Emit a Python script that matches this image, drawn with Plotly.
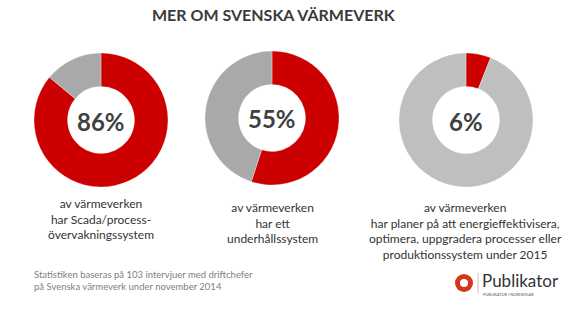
import plotly.graph_objects as go

W, H = 585, 324

percents = [86, 55, 6]
pct_labels = ["86%", "55%", "6%"]
captions = [
    "av värmeverken<br>har Scada/process-<br>övervakningssystem",
    "av värmeverken<br>har ett<br>underhållssystem",
    "av värmeverken<br>har planer på att energieffektivisera,<br>optimera, uppgradera processer eller<br>produktionssystem under 2015",
]
rest_colors = ["#A9A9A9", "#A9A9A9", "#BFBFBF"]
title = "MER OM SVENSKA VÄRMEVERK"
footnote = "Statistiken baseras på 103 intervjuer med driftchefer<br>på Svenska värmeverk under november 2014"

# layout positions (pixels)
centers_x = [101, 272, 466]
centers_y = [120, 118, 120]
radius = 67
caption_top = [194, 198, 198]

fig = go.Figure()
for i, p in enumerate(percents):
    cx, cy = centers_x[i], centers_y[i]
    fig.add_trace(go.Pie(
        values=[p, 100 - p],
        labels=["Ja", "Övrigt"],
        hole=0.5,
        sort=False,
        direction="clockwise",
        rotation=0,
        textinfo="none",
        hoverinfo="none",
        showlegend=False,
        marker=dict(colors=["#CC0000", rest_colors[i]],
                    line=dict(color="rgba(255,255,255,0.6)", width=0.5)),
        domain=dict(x=[(cx - radius) / W, (cx + radius) / W],
                    y=[(H - cy - radius) / H, (H - cy + radius) / H]),
    ))
    fig.add_annotation(x=cx / W, y=(H - cy - 1) / H, xref="paper", yref="paper",
                       text="<b>%s</b>" % pct_labels[i], showarrow=False,
                       font=dict(family="Lato", size=24, color="#404040"),
                       xanchor="center", yanchor="middle")
    fig.add_annotation(x=cx / W, y=(H - caption_top[i]) / H, xref="paper", yref="paper",
                       text=captions[i], showarrow=False, align="center",
                       font=dict(family="Lato", size=12, color="#333333"),
                       xanchor="center", yanchor="top")

fig.add_annotation(x=274 / W, y=(H - 15) / H, xref="paper", yref="paper",
                   text="<b>%s</b>" % title, showarrow=False,
                   font=dict(family="Lato", size=16, color="#3A3A3A"),
                   xanchor="center", yanchor="middle")

fig.add_annotation(x=32 / W, y=(H - 267) / H, xref="paper", yref="paper",
                   text=footnote, showarrow=False, align="left",
                   font=dict(family="Lato", size=9.5, color="#808080"),
                   xanchor="left", yanchor="top")

# logo
fig.add_shape(type="circle", xref="paper", yref="paper",
              x0=(464 - 9) / W, x1=(464 + 9) / W, y0=(H - 283 - 9) / H, y1=(H - 283 + 9) / H,
              fillcolor="#D5361E", line=dict(width=0))
fig.add_shape(type="circle", xref="paper", yref="paper",
              x0=(464 - 4) / W, x1=(464 + 4) / W, y0=(H - 283 - 4) / H, y1=(H - 283 + 4) / H,
              fillcolor="white", line=dict(width=0))
fig.add_shape(type="line", xref="paper", yref="paper",
              x0=478 / W, x1=478 / W, y0=(H - 293) / H, y1=(H - 273) / H,
              line=dict(color="#999999", width=0.6))
fig.add_annotation(x=480 / W, y=(H - 280) / H, xref="paper", yref="paper",
                   text="Publikator", showarrow=False,
                   font=dict(family="Lato", size=17, color="#333333"),
                   xanchor="left", yanchor="middle")
fig.add_annotation(x=481 / W, y=(H - 294) / H, xref="paper", yref="paper",
                   text="PUBLIKATOR I NORDEN AB", showarrow=False,
                   font=dict(family="Lato", size=4, color="#555555"),
                   xanchor="left", yanchor="middle")

fig.update_layout(width=W, height=H, margin=dict(l=0, r=0, t=0, b=0),
                  paper_bgcolor="white", plot_bgcolor="white")
fig.write_html("out.html")
